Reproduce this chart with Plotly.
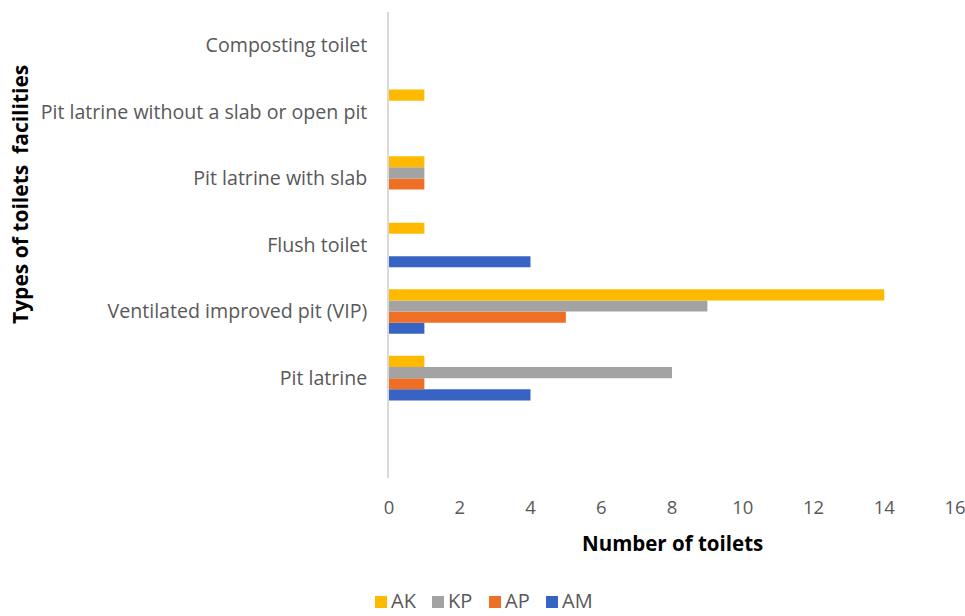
import plotly.graph_objects as go

# Toilet facility types, listed bottom to top
categories = [
    "Pit latrine",
    "Ventilated improved pit (VIP)",
    "Flush toilet",
    "Pit latrine with slab",
    "Pit latrine without a slab or open pit",
    "Composting toilet",
]

# Number of toilets per facility type for each site
am = [4, 1, 4, 0, 0, 0]
ap = [1, 5, 0, 1, 0, 0]
kp = [8, 9, 0, 1, 0, 0]
ak = [1, 14, 1, 1, 1, 0]

x_ticks = [0, 2, 4, 6, 8, 10, 12, 14, 16]

series = [
    ("AM", am, "#3764C4"),
    ("AP", ap, "#EE7027"),
    ("KP", kp, "#A3A3A3"),
    ("AK", ak, "#FFBA00"),
]

fig = go.Figure()
for name, vals, color in series:
    fig.add_trace(go.Bar(
        y=categories, x=vals, name=name, orientation="h",
        marker=dict(color=color, line=dict(width=0)),
        showlegend=False,
    ))

font_family = "Open Sans, Liberation Sans, sans-serif"

L, R, T, B = 389, 10, 12, 138
W, H = 965, 616
plot_w = W - L - R
plot_h = H - T - B


def px_x(px):
    return (px - L) / plot_w


def px_y(py):
    return (H - B - py) / plot_h


fig.update_layout(
    width=W, height=H,
    barmode="group", bargap=0.33, bargroupgap=0,
    plot_bgcolor="white", paper_bgcolor="white",
    margin=dict(l=L, r=R, t=T, b=B, autoexpand=False),
    font=dict(family=font_family, color="#595959"),
    xaxis=dict(
        range=[0, 16], tickvals=x_ticks, showgrid=False, zeroline=False,
        showline=False, ticks="", automargin=False, ticklabelstandoff=16,
        ticklabeloverflow="allow",
        tickfont=dict(size=18.5, color="#595959"),
    ),
    yaxis=dict(
        type="category", categoryorder="array", categoryarray=categories,
        range=[-1.5, 5.5], showgrid=False, zeroline=False,
        showline=True, linecolor="#D9D9D9", linewidth=1.5,
        ticks="", ticklabelstandoff=16, automargin=False,
        tickfont=dict(size=19.6, color="#595959"),
    ),
)

# Legend row under the chart: square swatch followed by the series name
legend_left, legend_step, swatch = 375, 57, 12
legend_mid = 602
legend_bottom = 615
for i, (name, _, color) in enumerate(reversed(series)):
    x0 = legend_left + i * legend_step
    fig.add_shape(
        type="rect", xref="paper", yref="paper",
        x0=px_x(x0), x1=px_x(x0 + swatch),
        y0=px_y(legend_mid + swatch / 2), y1=px_y(legend_mid - swatch / 2),
        fillcolor=color, line=dict(width=0),
    )
    fig.add_annotation(
        text=name, xref="paper", yref="paper",
        x=px_x(x0 + swatch + 3), y=px_y(legend_bottom),
        xanchor="left", yanchor="bottom", showarrow=False, borderpad=0,
        font=dict(size=20, color="#595959", family=font_family),
    )

# Axis titles
fig.add_annotation(
    text="<b>Number of toilets</b>",
    xref="paper", yref="paper",
    x=0.5, y=px_y(543), yanchor="middle",
    showarrow=False,
    font=dict(size=20.5, color="#000000", family=font_family),
)
fig.add_annotation(
    text="<b>Types of toilets  facilities</b>",
    xref="paper", yref="paper",
    x=px_x(20), y=px_y(195),
    xanchor="center", yanchor="middle",
    textangle=-90, showarrow=False,
    font=dict(size=21, color="#000000", family=font_family),
)

fig.write_html("out.html")
